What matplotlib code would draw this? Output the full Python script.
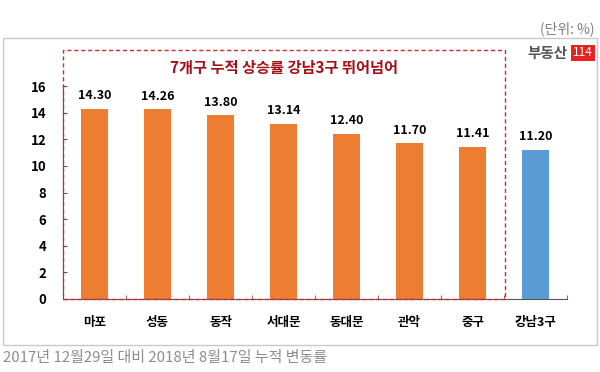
import matplotlib
matplotlib.use("Agg")
import matplotlib.pyplot as plt
from matplotlib.patches import Rectangle

plt.rcParams['font.family'] = ['Noto Sans CJK KR', 'DejaVu Sans']

categories = ['마포', '성동', '동작', '서대문', '동대문', '관악', '중구', '강남3구']
values = [14.30, 14.26, 13.80, 13.14, 12.40, 11.70, 11.41, 11.20]
colors = ['#ED7D31'] * 7 + ['#5B9BD5']
yticks = [0, 2, 4, 6, 8, 10, 12, 14, 16]

fig = plt.figure(figsize=(6, 3.72), dpi=100)
W, H = 600, 372
def fx(x): return x / W
def fy(y): return 1 - y / H

# outer frame
fig.patches.append(Rectangle((fx(3), fy(345)), fx(597) - fx(3), fy(38) - fy(345),
                             transform=fig.transFigure, fill=False, edgecolor='#C8C8C8', lw=1))

ax = fig.add_axes([fx(63), fy(299), fx(567) - fx(63), fy(86) - fy(299)])
x = range(len(categories))
bars = ax.bar(x, values, width=0.42, color=colors, zorder=2)
for xi, v in zip(x, values):
    ax.text(xi, v + 0.5, f'{v:.2f}', ha='center', va='bottom', fontsize=9, fontweight='bold')
ax.set_xlim(-0.5, 7.5)
ax.set_ylim(0, 16)
ax.set_yticks(yticks)
ax.set_yticklabels([str(t) for t in yticks], fontweight='bold', fontsize=9.5)
ax.set_xticks(list(x))
ax.set_xticklabels(categories, fontweight='bold', fontsize=9)
ax.tick_params(axis='x', length=0, pad=12)
ax.tick_params(axis='y', length=3, direction='in', pad=12, color='#555555')
ax.set_xticks([i + 0.5 for i in range(-1, 8)], minor=True)
ax.tick_params(axis='x', which='minor', length=3, direction='in', color='#555555')
for s in ['top', 'right']:
    ax.spines[s].set_visible(False)
ax.spines['left'].set_color('#555555')
ax.spines['bottom'].set_color('#555555')

# dashed red box
fig.patches.append(Rectangle((fx(63), fy(299)), fx(505) - fx(63), fy(50) - fy(299),
                             transform=fig.transFigure, fill=False, edgecolor='#D9272E',
                             lw=1, linestyle=(0, (3, 2)), zorder=5))
fig.text(fx(284), fy(68), '7개구 누적 상승률 강남3구 뛰어넘어', ha='center', va='center',
         fontsize=11, fontweight='bold', color='#A50F15')

fig.text(fx(595), fy(29), '(단위: %)', ha='right', va='center', fontsize=10, color='#7F7F7F')
fig.text(fx(568), fy(53), '부동산', ha='right', va='center', fontsize=10.5, fontweight='bold', color='#555555')
fig.text(fx(583), fy(53), '114', ha='center', va='center', fontsize=8.5, color='white',
         bbox=dict(boxstyle='square,pad=0.15', fc='#E8231F', ec='none'))

fig.text(fx(3), fy(358), '2017년 12월29일 대비 2018년 8월17일 누적 변동률', ha='left', va='center',
         fontsize=10.8, color='#8C8C8C')

fig.savefig('out.png', dpi=100)
